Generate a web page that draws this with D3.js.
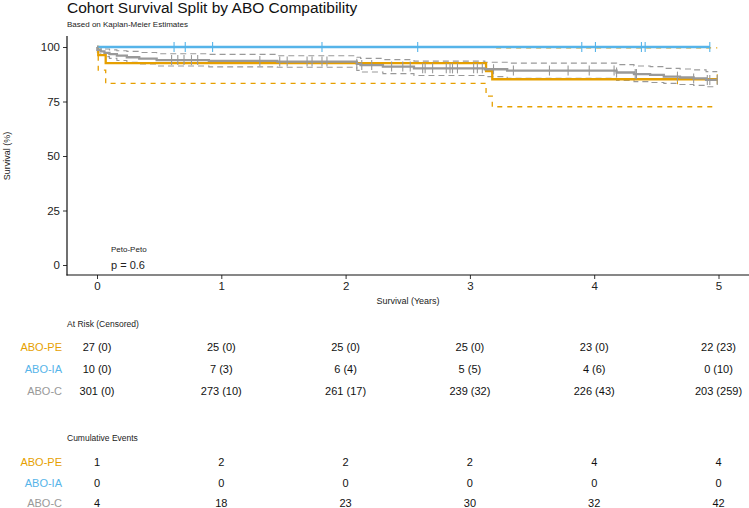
<!DOCTYPE html>
<html><head><meta charset="utf-8">
<script src="https://cdn.jsdelivr.net/npm/d3@7"></script>
<style>body{margin:0;background:#fff}svg{display:block;font-family:"Liberation Sans",Arial,sans-serif}</style>
</head><body><svg id="c" width="749" height="508"></svg>
<script>
const groups = ["ABO-PE", "ABO-IA", "ABO-C"];
const colors = ["#E69F00", "#56B4E9", "#999999"];
const xTicks = [0, 1, 2, 3, 4, 5];
const yTicks = [0, 25, 50, 75, 100];

// ABO-PE
const peTime  = [0, 0.01, 0.07, 3.13, 3.18];
const peSurv  = [100, 96.3, 92.6, 88.9, 85.2];
const peUpper = [100, 100, 100, 100, 99.6];
const peLower = [100, 89.4, 83.3, 77.5, 72.6];
const peEnd = 4.99;
const peCensor = [4.67, 4.99];

// ABO-IA
const iaTime  = [0];
const iaSurv  = [100];
const iaUpper = [100];
const iaLower = [100];
const iaEnd = 4.93;
const iaCensor = [0.62, 0.71, 0.93, 1.81, 2.58, 3.90, 4.01, 4.38, 4.41, 4.93];

// ABO-C
const cTime  = [0, 0.003, 0.03, 0.06, 0.10, 0.16, 0.24, 0.34, 0.48, 0.90, 1.45, 2.09, 2.12, 2.30, 2.55, 3.12, 3.30, 4.18, 4.32, 4.45, 4.56, 4.69, 4.80, 4.90];
const cSurv  = [100, 98.7, 98.0, 97.3, 96.7, 96.0, 95.3, 94.7, 94.0, 93.6, 93.3, 92.3, 91.7, 91.0, 90.2, 89.8, 89.2, 88.3, 87.6, 87.2, 86.4, 86.0, 85.6, 84.9];
const cUpper = [100, 99.9, 99.5, 99.1, 98.7, 98.3, 98.0, 97.5, 96.9, 96.6, 96.0, 95.3, 94.8, 94.2, 93.5, 93.0, 92.6, 91.9, 91.3, 91.0, 90.2, 89.9, 89.5, 88.7];
const cLower = [100, 97.5, 96.5, 95.6, 94.8, 93.8, 93.0, 92.2, 91.3, 90.9, 90.7, 89.3, 88.5, 87.8, 86.9, 86.4, 85.6, 84.7, 84.1, 83.7, 83.3, 82.8, 82.4, 81.8];
const cEnd = 4.99;
const cCensor = [0.60, 0.65, 0.70, 0.76, 0.81, 1.31, 1.47, 1.53, 1.69, 1.73, 1.81, 1.85, 2.09, 2.13, 2.21, 2.37, 2.46, 2.52, 2.62, 2.64, 2.70, 2.81, 2.84, 2.86, 2.90, 3.03, 3.06, 3.10, 3.19, 3.35, 3.64, 3.79, 3.96, 4.16, 4.18, 4.33, 4.34, 4.67, 4.80, 4.91, 4.93, 4.99];

const atRiskPE = ["27 (0)", "25 (0)", "25 (0)", "25 (0)", "23 (0)", "22 (23)"];
const atRiskIA = ["10 (0)", "7 (3)", "6 (4)", "5 (5)", "4 (6)", "0 (10)"];
const atRiskC  = ["301 (0)", "273 (10)", "261 (17)", "239 (32)", "226 (43)", "203 (259)"];
const cumPE = [1, 2, 2, 2, 4, 4];
const cumIA = [0, 0, 0, 0, 0, 0];
const cumC  = [4, 18, 23, 30, 32, 42];

const svg = d3.select("#c");
const x = d3.scaleLinear().domain([0, 5]).range([97, 718.5]);
const y = d3.scaleLinear().domain([0, 100]).range([265, 47]);

function steps(time, vals, end) {
  const pts = time.map((t, i) => [t, vals[i]]);
  pts.push([end, vals[vals.length - 1]]);
  return pts;
}
const line = d3.line().x(d => x(d[0])).y(d => y(d[1])).curve(d3.curveStepAfter);

const series = [
  {t: peTime, s: peSurv, u: peUpper, l: peLower, end: peEnd, cens: peCensor, col: colors[0]},
  {t: iaTime, s: iaSurv, u: iaUpper, l: iaLower, end: iaEnd, cens: iaCensor, col: colors[1]},
  {t: cTime, s: cSurv, u: cUpper, l: cLower, end: cEnd, cens: cCensor, col: colors[2]}
];

function survAt(sr, t) {
  let v = sr.s[0];
  for (let i = 0; i < sr.t.length; i++) if (sr.t[i] <= t) v = sr.s[i];
  return v;
}

const g = svg.append("g");
series.forEach((sr, k) => {
  [sr.u, sr.l].forEach(arr => {
    g.append("path").datum(steps(sr.t, arr, sr.end)).attr("d", line)
      .attr("fill", "none").attr("stroke", sr.col)
      .attr("stroke-width", k === 2 ? 1.1 : 1.3)
      .attr("stroke-dasharray", k === 2 ? "6,4" : "5,5");
  });
});
series.forEach(sr => {
  g.append("path").datum(steps(sr.t, sr.s, sr.end)).attr("d", line)
    .attr("fill", "none").attr("stroke", sr.col).attr("stroke-width", 2.3);
});
series.forEach(sr => {
  g.selectAll(null).data(sr.cens).enter().append("line")
    .attr("x1", d => x(d)).attr("x2", d => x(d))
    .attr("y1", d => y(survAt(sr, d)) - 5).attr("y2", d => y(survAt(sr, d)) + 5)
    .attr("stroke", sr.col).attr("stroke-width", 1.1);
});

const yAxis = svg.append("g").attr("transform", "translate(67,0)")
  .call(d3.axisLeft(y).tickValues(yTicks).tickFormat(d3.format("d")).tickSize(4).tickPadding(3));
yAxis.select(".domain").remove();
const xAxis = svg.append("g").attr("transform", "translate(0,275)")
  .call(d3.axisBottom(x).tickValues(xTicks).tickFormat(d3.format("d")).tickSize(4).tickPadding(3));
xAxis.select(".domain").remove();
[yAxis, xAxis].forEach(a => {
  a.selectAll("text").attr("font-size", 11.5).attr("fill", "#222").attr("font-family", "Liberation Sans, Arial, sans-serif");
  a.selectAll("line").attr("stroke", "#333");
});
svg.append("line").attr("x1", 67).attr("x2", 67).attr("y1", 36).attr("y2", 275.5).attr("stroke", "#111").attr("stroke-width", 1.2);
svg.append("line").attr("x1", 66.5).attr("x2", 749).attr("y1", 275).attr("y2", 275).attr("stroke", "#111").attr("stroke-width", 1.2);

svg.append("text").attr("x", 67).attr("y", 13).attr("font-size", 15.5).attr("fill", "#111").text("Cohort Survival Split by ABO Compatibility");
svg.append("text").attr("x", 67).attr("y", 27).attr("font-size", 8).attr("fill", "#222").text("Based on Kaplan-Meier Estimates");
svg.append("text").attr("transform", "translate(10,156) rotate(-90)").attr("text-anchor", "middle").attr("font-size", 9).attr("fill", "#222").text("Survival (%)");
svg.append("text").attr("x", 408).attr("y", 304).attr("text-anchor", "middle").attr("font-size", 9).attr("fill", "#222").text("Survival (Years)");
svg.append("text").attr("x", 111).attr("y", 252).attr("font-size", 8).attr("fill", "#222").text("Peto-Peto");
svg.append("text").attr("x", 111).attr("y", 269).attr("font-size", 11).attr("fill", "#222").text("p = 0.6");

function table(title, ty, rows, rowY) {
  svg.append("text").attr("x", 67).attr("y", ty).attr("font-size", 8.5).attr("fill", "#222").text(title);
  rows.forEach((r, i) => {
    svg.append("text").attr("x", 62).attr("y", rowY[i]).attr("text-anchor", "end")
      .attr("font-size", 11).attr("fill", colors[i]).text(groups[i]);
    svg.selectAll(null).data(r).enter().append("text")
      .attr("x", (d, j) => x(xTicks[j])).attr("y", rowY[i]).attr("text-anchor", "middle")
      .attr("font-size", 11).attr("fill", "#111").text(d => d);
  });
}
table("At Risk (Censored)", 327, [atRiskPE, atRiskIA, atRiskC], [351, 373, 395]);
table("Cumulative Events", 441, [cumPE, cumIA, cumC], [466, 487, 507]);
</script></body></html>
